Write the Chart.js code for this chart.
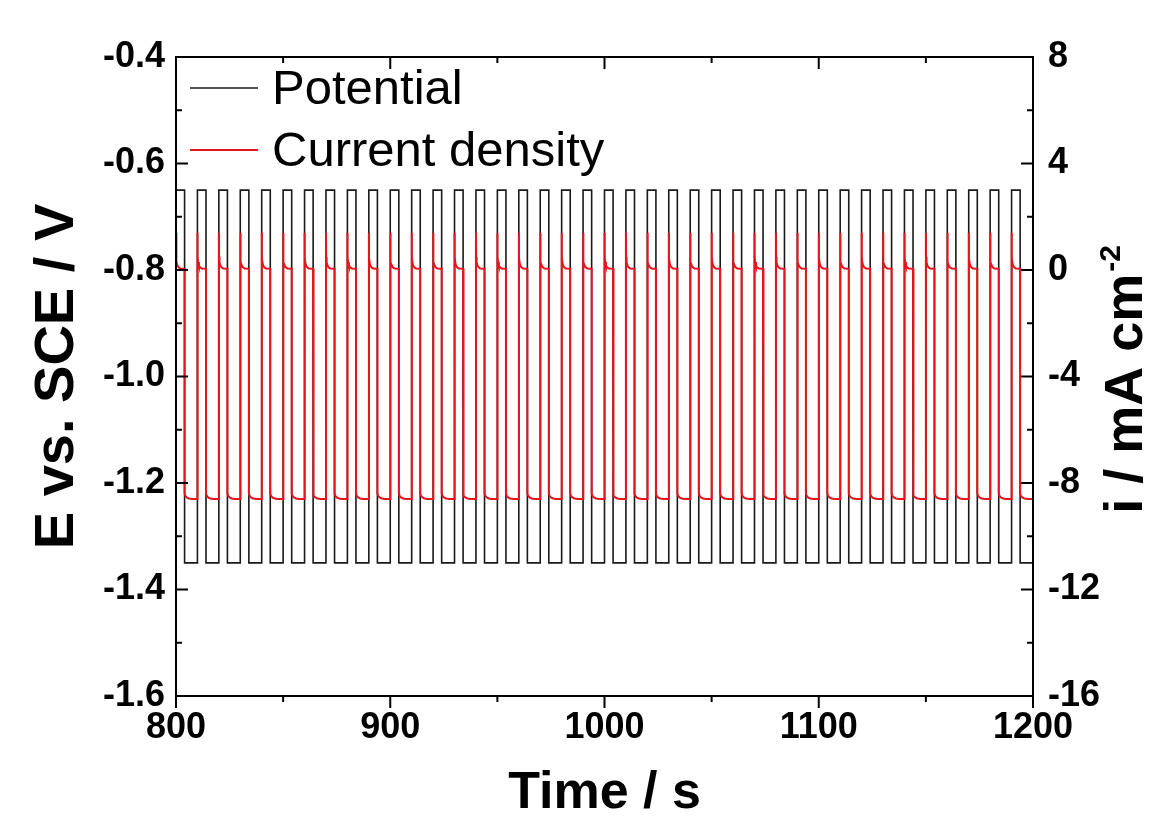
<!DOCTYPE html>
<html>
<head>
<meta charset="utf-8">
<script src="https://cdn.jsdelivr.net/npm/chart.js@4"></script>
<style>
  body { margin: 0; background: #fff; }
  canvas { display: block; }
</style>
</head>
<body>
<canvas id="pulseChart" width="1152" height="828"></canvas>
<script>
// square-wave pulses: potential switched on / off every cycle (s)
var onTimes = [800, 810, 820, 830, 840, 850, 860, 870, 880, 890,
               900, 910, 920, 930, 940, 950, 960, 970, 980, 990,
               1000, 1010, 1020, 1030, 1040, 1050, 1060, 1070, 1080, 1090,
               1100, 1110, 1120, 1130, 1140, 1150, 1160, 1170, 1180, 1190];
var offTimes = [804, 814, 824, 834, 844, 854, 864, 874, 884, 894,
                904, 914, 924, 934, 944, 954, 964, 974, 984, 994,
                1004, 1014, 1024, 1034, 1044, 1054, 1064, 1074, 1084, 1094,
                1104, 1114, 1124, 1134, 1144, 1154, 1164, 1174, 1184, 1194];
var endTime = 1200;

// potential levels (V vs SCE)
var potentialHigh = -0.65;
var potentialLow = -1.35;

var riseOffsets = [0, 0.08, 0.3, 0.7, 1.2, 2.0, 4.0];
var riseCurrent = [1.4, 0.5, 0.3, 0.17, 0.1, 0.06, 0.05];
var fallOffsets = [0, 0.4, 1.0, 2.0, 3.5, 6.0];
var fallCurrent = [-8.4, -8.48, -8.54, -8.58, -8.6, -8.6];

// axis ticks
var timeTicks = [800, 900, 1000, 1100, 1200];
var potentialTicks = [-1.6, -1.4, -1.2, -1.0, -0.8, -0.6, -0.4];
var currentTicks = [-16, -12, -8, -4, 0, 4, 8];

var potentialData = [];
var currentData = [];
for (var i = 0; i < onTimes.length; i++) {
    var next = i + 1 < onTimes.length ? onTimes[i + 1] : endTime;
    potentialData.push({x: onTimes[i], y: potentialHigh});
    potentialData.push({x: offTimes[i], y: potentialHigh});
    potentialData.push({x: offTimes[i], y: potentialLow});
    potentialData.push({x: next, y: potentialLow});
    for (var j = 0; j < riseOffsets.length; j++) {
        currentData.push({x: onTimes[i] + riseOffsets[j], y: riseCurrent[j]});
    }
    for (var k = 0; k < fallOffsets.length; k++) {
        currentData.push({x: offTimes[i] + fallOffsets[k], y: fallCurrent[k]});
    }
}

var FONT = '"Liberation Sans", Arial, Helvetica, sans-serif';

function minorsOf(ticks) {
    var out = [];
    for (var i = 0; i < ticks.length - 1; i++) out.push((ticks[i] + ticks[i + 1]) / 2);
    return out;
}

// frame, inward ticks (outward on the bottom), legend and right title
var framePlugin = {
    id: 'frame',
    afterDraw: function(chart) {
        var ctx = chart.ctx;
        var a = chart.chartArea;
        var sx = chart.scales.x, sy = chart.scales.y, sy2 = chart.scales.y2;
        var major = 12, minor = 6;
        ctx.save();
        ctx.strokeStyle = '#000';
        ctx.lineWidth = 2;
        ctx.strokeRect(a.left, a.top, a.right - a.left, a.bottom - a.top);
        ctx.beginPath();
        function tx(v, len) {
            var p = sx.getPixelForValue(v);
            ctx.moveTo(p, a.top); ctx.lineTo(p, a.top + len);
            ctx.moveTo(p, a.bottom); ctx.lineTo(p, a.bottom + len);
        }
        timeTicks.forEach(function(v) { tx(v, major); });
        minorsOf(timeTicks).forEach(function(v) { tx(v, minor); });
        function ty(v, len) {
            var p = sy.getPixelForValue(v);
            ctx.moveTo(a.left, p); ctx.lineTo(a.left + len, p);
        }
        potentialTicks.forEach(function(v) { ty(v, major); });
        minorsOf(potentialTicks).forEach(function(v) { ty(v, minor); });
        function ty2(v, len) {
            var p = sy2.getPixelForValue(v);
            ctx.moveTo(a.right, p); ctx.lineTo(a.right - len, p);
        }
        currentTicks.forEach(function(v) { ty2(v, major); });
        minorsOf(currentTicks).forEach(function(v) { ty2(v, minor); });
        ctx.stroke();

        // legend
        var ds = chart.data.datasets;
        ctx.font = '49px ' + FONT;
        ctx.textBaseline = 'middle';
        ctx.textAlign = 'left';
        var rows = [88, 150];
        for (var d = 0; d < ds.length; d++) {
            ctx.beginPath();
            ctx.strokeStyle = ds[d].borderColor;
            ctx.lineWidth = ds[d].borderWidth;
            ctx.moveTo(190, rows[d]);
            ctx.lineTo(258, rows[d]);
            ctx.stroke();
            ctx.fillStyle = '#000';
            ctx.fillText(ds[d].label, 272, rows[d] + 2);
        }

        // right axis title, read bottom to top
        var main = 'i / mA cm', sup = '-2';
        ctx.font = 'bold 54px ' + FONT;
        var wMain = ctx.measureText(main).width;
        ctx.font = 'bold 30px ' + FONT;
        var wSup = ctx.measureText(sup).width;
        ctx.translate(1142, (a.top + a.bottom) / 2 + 4);
        ctx.rotate(-Math.PI / 2);
        ctx.textBaseline = 'alphabetic';
        ctx.fillStyle = '#000';
        var start = -(wMain + wSup) / 2;
        ctx.font = 'bold 54px ' + FONT;
        ctx.fillText(main, start, 0);
        ctx.font = 'bold 30px ' + FONT;
        ctx.fillText(sup, start + wMain + 2, -22);
        ctx.restore();
    }
};

var tickFont = {family: FONT, size: 36, weight: 'bold'};

new Chart(document.getElementById('pulseChart'), {
    type: 'line',
    data: {
        datasets: [
            {
                label: 'Potential',
                data: potentialData,
                yAxisID: 'y',
                borderColor: '#1a1a1a',
                borderWidth: 1.6,
                pointRadius: 0,
                tension: 0,
                order: 2
            },
            {
                label: 'Current density',
                data: currentData,
                yAxisID: 'y2',
                borderColor: '#e8141c',
                borderWidth: 2,
                pointRadius: 0,
                tension: 0,
                order: 1
            }
        ]
    },
    options: {
        responsive: false,
        animation: false,
        layout: {padding: {left: 0, right: 0, top: 57, bottom: 0}},
        plugins: {legend: {display: false}, tooltip: {enabled: false}},
        scales: {
            x: {
                type: 'linear',
                position: 'bottom',
                min: 800,
                max: 1200,
                afterBuildTicks: function(s) { s.ticks = timeTicks.map(function(v) { return {value: v}; }); },
                afterFit: function(s) { s.height = 132; },
                grid: {display: false, drawTicks: false},
                border: {display: false},
                ticks: {font: tickFont, color: '#000', padding: 10, maxRotation: 0,
                        callback: function(v) { return String(v); }},
                title: {display: true, text: 'Time / s', color: '#000',
                        font: {family: FONT, size: 52, weight: 'bold'}, padding: {top: 0, bottom: 3}}
            },
            y: {
                type: 'linear',
                position: 'left',
                min: -1.6,
                max: -0.4,
                afterBuildTicks: function(s) { s.ticks = potentialTicks.map(function(v) { return {value: v}; }); },
                afterFit: function(s) { s.width = 176; },
                grid: {display: false, drawTicks: false},
                border: {display: false},
                ticks: {font: tickFont, color: '#000', padding: 11,
                        callback: function(v) { return v.toFixed(1); }},
                title: {display: true, text: 'E vs. SCE / V', color: '#000',
                        font: {family: FONT, size: 56, weight: 'bold'}, padding: {top: 24, bottom: 0}}
            },
            y2: {
                type: 'linear',
                position: 'right',
                min: -16,
                max: 8,
                afterBuildTicks: function(s) { s.ticks = currentTicks.map(function(v) { return {value: v}; }); },
                afterFit: function(s) { s.width = 119; },
                grid: {display: false, drawTicks: false},
                border: {display: false},
                ticks: {font: tickFont, color: '#000', padding: 15}
            }
        }
    },
    plugins: [framePlugin]
});
</script>
</body>
</html>
